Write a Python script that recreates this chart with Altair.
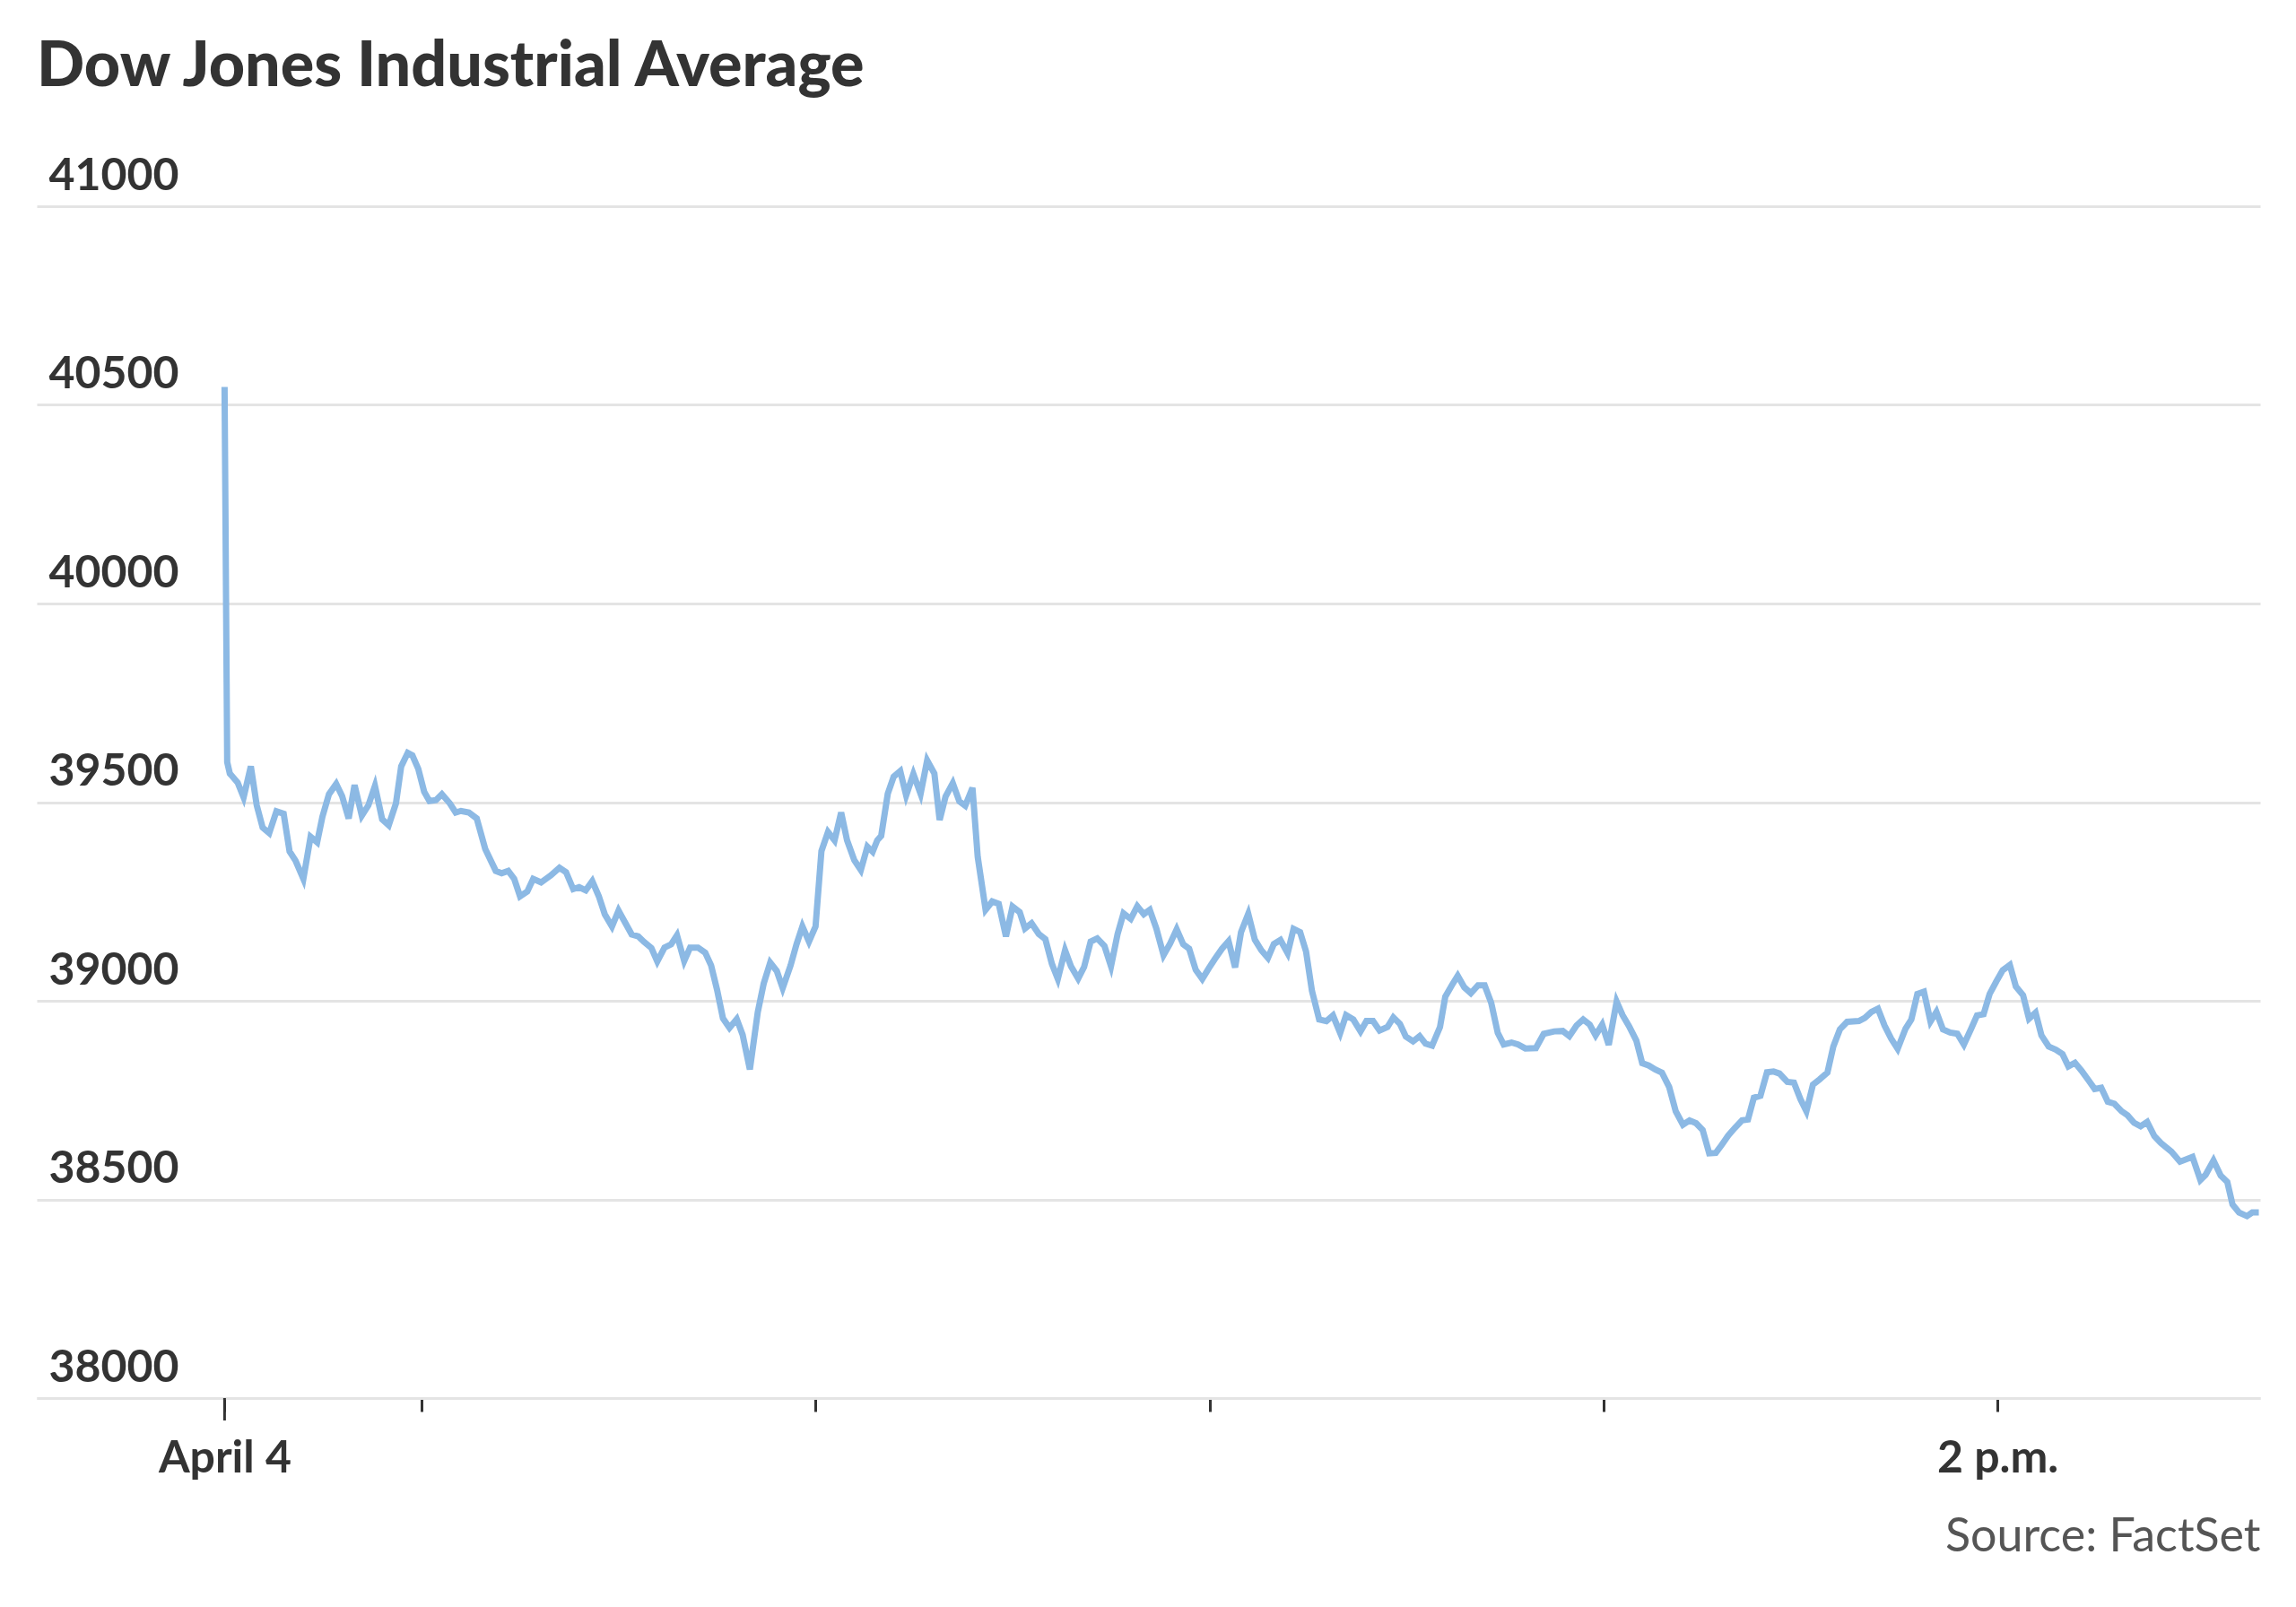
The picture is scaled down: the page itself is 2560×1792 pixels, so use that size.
import altair as alt
import pandas as pd

# Minutes after 9:30 a.m. on April 4 and Dow Jones Industrial Average level
minutes = [
    0.0, 0.4, 0.8, 2.0, 2.9, 4.0, 4.9, 5.8, 6.8, 7.9, 9.0, 9.9, 10.8, 12.0, 13.1, 14.1, 14.9, 15.9,
    17.0, 17.9, 18.9, 19.8, 20.9, 21.9, 22.9, 24.0, 25.0, 26.1, 26.9, 27.9, 28.6, 29.5, 30.4, 31.2,
    32.2, 33.1, 34.3, 35.2, 36.0, 37.2, 38.4, 39.7, 41.3, 42.2, 43.2, 44.1, 45.0, 46.1, 47.0, 48.2,
    49.7, 51.0, 52.0, 53.1, 54.0, 55.0, 56.0, 57.0, 57.9, 59.0, 60.0, 61.0, 62.0, 63.0, 63.9, 65.0,
    65.9, 67.0, 68.0, 68.9, 70.0, 70.9, 72.1, 73.2, 74.1, 75.0, 75.9, 76.9, 78.0, 78.9, 80.0, 81.2,
    82.1, 83.1, 84.1, 85.0, 86.2, 87.1, 88.0, 89.0, 90.0, 90.9, 91.9, 92.9, 93.9, 94.8, 95.9, 96.9,
    97.9, 98.7, 99.4, 100.0, 101.0, 101.9, 102.9, 103.8, 104.9, 106.0, 107.0, 108.1, 108.9, 109.8,
    110.9, 111.9, 112.8, 113.9, 114.7, 115.9, 116.9, 117.9, 119.0, 120.0, 121.1, 121.9, 122.9, 124.0,
    125.0, 126.0, 126.9, 128.0, 128.9, 130.0, 130.9, 131.9, 132.9, 134.0, 135.0, 136.0, 136.9, 138.0,
    139.0, 140.0, 140.9, 141.9, 143.0, 144.0, 145.0, 146.0, 146.9, 147.9, 148.9, 149.9, 150.8, 151.9,
    152.9, 153.9, 154.8, 155.9, 156.9, 157.9, 158.9, 159.8, 160.8, 161.9, 162.8, 163.8, 164.7, 165.6,
    166.7, 167.8, 168.8, 169.9, 170.8, 171.9, 173.0, 173.9, 174.9, 175.9, 177.1, 178.0, 179.0, 179.9,
    181.0, 182.0, 182.9, 183.9, 185.1, 185.9, 186.9, 187.8, 188.8, 189.8, 190.9, 191.9, 192.9, 193.9,
    194.8, 196.0, 197.0, 198.1, 199.7, 200.9, 202.5, 203.8, 204.8, 205.9, 206.9, 207.9, 208.8, 209.8,
    210.8, 212.0, 212.9, 213.9, 215.0, 215.9, 216.9, 217.9, 218.9, 220.0, 221.0, 222.1, 223.1, 224.1,
    225.1, 226.1, 227.1, 228.0, 229.0, 230.0, 231.1, 232.0, 232.9, 233.9, 234.9, 235.9, 236.8, 238.0,
    239.0, 240.0, 240.9, 241.9, 242.9, 244.1, 245.0, 246.0, 247.1, 248.9, 249.8, 250.8, 251.8, 252.8,
    253.8, 254.8, 256.0, 256.9, 257.8, 258.8, 259.8, 260.7, 261.7, 262.8, 263.9, 264.9, 266.0, 266.9,
    267.9, 268.8, 269.8, 270.8, 271.9, 272.8, 273.9, 274.8, 275.8, 276.7, 277.8, 278.9, 279.9, 280.8,
    281.8, 282.8, 283.9, 284.8, 285.8, 286.8, 287.8, 288.9, 289.8, 290.8, 291.8, 292.8, 293.9, 294.9,
    296.5, 297.8, 299.7, 300.9, 301.7, 302.9, 304.0, 305.0, 305.8, 306.8, 308.0, 308.8, 309.8,
]
values = [
    40545, 39601, 39572, 39549, 39512, 39590, 39492, 39436, 39422, 39477, 39471, 39376, 39353, 39307, 39413, 39399, 39463, 39520,
    39546, 39515, 39459, 39543, 39466, 39492, 39541, 39457, 39442, 39497, 39590, 39624, 39618, 39584, 39526, 39503,
    39505, 39520, 39497, 39474, 39478, 39474, 39459, 39382, 39327, 39321, 39327, 39307, 39263, 39275, 39307, 39298,
    39316, 39335, 39324, 39281, 39286, 39278, 39301, 39263, 39218, 39187, 39227, 39197, 39167, 39162, 39148, 39133,
    39099, 39134, 39142, 39165, 39100, 39134, 39134, 39121, 39089, 39028, 38956, 38932, 38954, 38914, 38827, 38971,
    39043, 39096, 39075, 39032, 39089, 39142, 39187, 39149, 39187, 39377, 39425, 39404, 39474, 39404, 39354, 39329,
    39388, 39375, 39404, 39415, 39521, 39564, 39578, 39517, 39571, 39521, 39605, 39572, 39455, 39514,
    39548, 39502, 39491, 39536, 39362, 39229, 39250, 39244, 39162, 39237, 39223, 39182, 39195, 39168,
    39155, 39093, 39055, 39127, 39087, 39056, 39085, 39149, 39157, 39138, 39087, 39168, 39220, 39206,
    39238, 39218, 39229, 39182, 39115, 39144, 39180, 39142, 39131, 39078, 39055, 39082, 39105, 39131,
    39150, 39084, 39173, 39219, 39154, 39127, 39108, 39143, 39153, 39120, 39181, 39173, 39124, 39025,
    38953, 38949, 38963, 38919, 38964, 38953, 38923, 38949, 38949, 38925, 38934, 38958, 38942, 38910,
    38898, 38911, 38892, 38887, 38934, 39010, 39039, 39063, 39034, 39019, 39039, 39039, 38995, 38919,
    38890, 38895, 38890, 38880, 38881, 38917, 38923, 38924, 38911, 38938, 38953, 38940, 38913, 38940,
    38889, 38998, 38964, 38936, 38900, 38843, 38837, 38827, 38819, 38783, 38722, 38688, 38699, 38692,
    38675, 38616, 38617, 38637, 38661, 38680, 38699, 38701, 38756, 38761, 38820, 38822, 38817, 38796,
    38794, 38752, 38722, 38789, 38802, 38819, 38885, 38928, 38947, 38949, 38957, 38972, 38980, 38938,
    38905, 38879, 38930, 38953, 39017, 39023, 38948, 38972, 38928, 38920, 38917, 38890, 38930, 38963,
    38966, 39017, 39048, 39077, 39090, 39036, 39014, 38955, 38970, 38913, 38885, 38877, 38866, 38835,
    38844, 38824, 38799, 38778, 38781, 38746, 38741, 38722, 38712, 38693, 38684, 38695, 38659, 38642,
    38620, 38595, 38607, 38549, 38562, 38598, 38560, 38544, 38487, 38467, 38458, 38467, 38467,
]

y_ticks = [38000, 38500, 39000, 39500, 40000, 40500, 41000]
x_tick_times = [(9, 30), (10, 0), (11, 0), (12, 0), (13, 0), (14, 0)]

open_time = pd.Timestamp("2025-04-04 09:30:00")
df = pd.DataFrame({
    "time": [open_time + pd.Timedelta(minutes=m) for m in minutes],
    "dow": values,
})
df["time"] = df["time"].dt.strftime("%Y-%m-%dT%H:%M:%S")

FONT = "Lato"
W, H = 2479, 1329

def dt(h, m, s=0):
    return alt.DateTime(year=2025, month=4, date=4, hours=h, minutes=m, seconds=s)

line = alt.Chart(df).mark_line(color="#8cb9e4", strokeWidth=7).encode(
    x=alt.X(
        "time:T",
        scale=alt.Scale(domain=[dt(9, 1, 24), dt(14, 40, 0)]),
        axis=alt.Axis(
            values=[dt(h, m) for h, m in x_tick_times],
            labelExpr="hours(datum.value) == 9 ? 'April 4' : (hours(datum.value) == 14 ? '2 p.m.' : '')",
            grid=False,
            domain=True,
            domainColor="#e4e4e4",
            domainWidth=3,
            ticks=True,
            tickColor="#333333",
            tickWidth=3,
            tickSize=15,
            labelFont=FONT,
            labelFontSize=50,
            labelFontWeight="bold",
            labelColor="#333333",
            labelPadding=27,
            labelFlush=False,
            labelOverlap=False,
            title="Source: FactSet",
            titleFont=FONT,
            titleFontSize=52,
            titleFontWeight="normal",
            titleColor="#555555",
            titleAnchor="end",
            titleAlign="right",
            titlePadding=37,
        ),
    ),
    y=alt.Y(
        "dow:Q",
        scale=alt.Scale(domain=[38000, 41000], nice=False, zero=False),
        axis=alt.Axis(
            values=y_ticks,
            format="d",
            grid=True,
            gridColor="#e4e4e4",
            gridWidth=3,
            domain=False,
            ticks=False,
            tickSize=0,
            labelAlign="left",
            labelBaseline="alphabetic",
            labelPadding=-13,
            labelOffset=-19,
            labelFont=FONT,
            labelFontSize=50,
            labelFontWeight="bold",
            labelColor="#333333",
            title=None,
        ),
    ),
)

day_tick = alt.Chart(pd.DataFrame({"time": ["2025-04-04T09:30:00"]})).mark_rule(
    color="#333333", strokeWidth=3, clip=False
).encode(
    x="time:T",
    y=alt.value(H),
    y2=alt.value(H + 25),
)

chart = alt.layer(line, day_tick).properties(
    width=W,
    height=H,
    title=alt.TitleParams(
        "Dow Jones Industrial Average",
        anchor="start",
        frame="group",
        font=FONT,
        fontSize=70,
        fontWeight=900,
        color="#333333",
        offset=60,
    ),
    autosize=alt.AutoSizeParams(type="none"),
    padding={"left": 33, "top": 222, "right": 24, "bottom": 225},
    background="white",
).configure_view(stroke=None)

chart.save("out.html", embed_options={"renderer": "svg", "actions": False})
